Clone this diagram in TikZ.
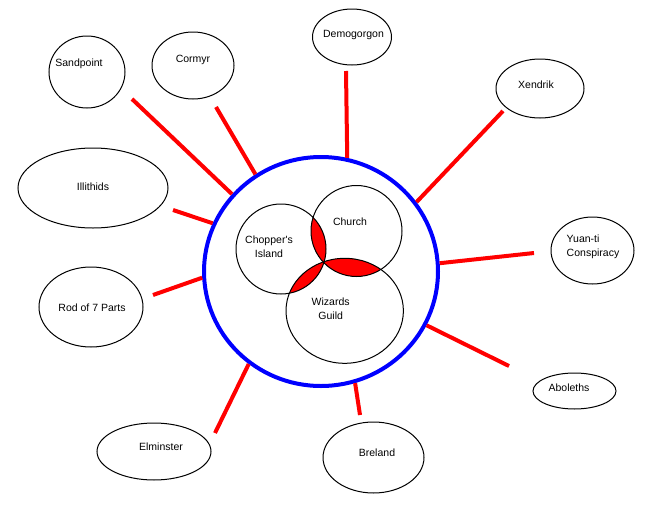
\documentclass[tikz,border=0pt]{standalone}
\usepackage{fontspec}
\setmainfont{Liberation Sans}
\usetikzlibrary{shapes.geometric}

\definecolor{ringblue}{RGB}{0,0,255}
\definecolor{linkred}{RGB}{255,0,0}

\begin{document}
\begin{tikzpicture}[
    x=1pt, y=-1pt,
    font=\fontsize{10.5}{13.5}\selectfont,
    place/.style={draw, ellipse, line width=1pt, inner sep=0pt},
    venn/.style={draw, ellipse, line width=1pt, inner sep=0pt},
    ring/.style={draw=ringblue, ellipse, line width=4pt, inner sep=0pt},
    link/.style={draw=linkred, line width=4pt}
]
\useasboundingbox (0,0) rectangle (654,509);

% overlaps of the three inner circles
\begin{scope}
  \clip (281,249) circle[radius=45];
  \fill[linkred] (356.5,231) circle[radius=45.5];
  \fill[linkred] (344.7,310.8) ellipse[x radius=58.7, y radius=52.5];
\end{scope}
\begin{scope}
  \clip (356.5,231) circle[radius=45.5];
  \fill[linkred] (344.7,310.8) ellipse[x radius=58.7, y radius=52.5];
\end{scope}

\node[venn, minimum width=90pt, minimum height=90pt,
      label={[shift={(-12,-2.5)}, align=center]center:Chopper\textquotesingle s\\Island}] (chopper) at (281,249) {};
\node[venn, minimum width=91pt, minimum height=91pt,
      label={[shift={(-6.5,-9)}]center:Church}] (church) at (356.5,231) {};
\node[venn, minimum width=117.4pt, minimum height=105pt,
      label={[shift={(-14,-2)}, align=center]center:Wizards\\Guild}] (wizards) at (344.7,310.8) {};

\node[ring, minimum width=234pt, minimum height=229pt] (ring) at (321,271.5) {};

% outer places
\node[place, minimum width=76pt, minimum height=72pt,
      label={[shift={(-8,-8)}]center:Sandpoint}] (sandpoint) at (87,72) {};
\node[place, minimum width=82pt, minimum height=67pt,
      label={[shift={(0,-5.5)}]center:Cormyr}] (cormyr) at (193,65.5) {};
\node[place, minimum width=79pt, minimum height=56pt,
      label={[shift={(1.5,-2)}]center:Demogorgon}] (demogorgon) at (352,37) {};
\node[place, minimum width=88pt, minimum height=59pt,
      label={[shift={(-4,-3.5)}]center:Xendrik}] (xendrik) at (540,88.5) {};
\node[place, minimum width=83pt, minimum height=67pt,
      label={[shift={(0.5,-3.5)}, align=left]center:Yuan-ti\\Conspiracy}] (yuanti) at (592.5,250.5) {};
\node[place, minimum width=83pt, minimum height=36pt,
      label={[shift={(-5.5,-3)}]center:Aboleths}] (aboleths) at (574.5,391) {};
\node[place, minimum width=101pt, minimum height=71pt,
      label={[shift={(3.5,-4.5)}]center:Breland}] (breland) at (373.5,457.5) {};
\node[place, minimum width=114pt, minimum height=57pt,
      label={[shift={(7,-4.5)}]center:Elminster}] (elminster) at (154,451.5) {};
\node[place, minimum width=104pt, minimum height=80pt,
      label={[shift={(1,1)}]center:Rod of 7 Parts}] (rod) at (91,307) {};
\node[place, minimum width=150pt, minimum height=80pt,
      label={[shift={(0,-1)}]center:Illithids}] (illithids) at (93,188) {};

% loose ends of the links
\coordinate (sandpoint-end) at (132,99);
\coordinate (cormyr-end) at (216,107);
\coordinate (demogorgon-end) at (346,71);
\coordinate (xendrik-end) at (503,111);
\coordinate (yuanti-end) at (534,253);
\coordinate (aboleths-end) at (509,366);
\coordinate (breland-end) at (360,415);
\coordinate (elminster-end) at (215,433);
\coordinate (rod-end) at (153,295);
\coordinate (illithids-end) at (173,210);

\draw[link] (sandpoint-end) -- (ring.139.5);
\draw[link] (cormyr-end) -- (ring.124.4);
\draw[link] (demogorgon-end) -- (ring.77.9);
\draw[link] (xendrik-end) -- (ring.36.8);
\draw[link] (yuanti-end) -- (ring.4.5);
\draw[link] (aboleths-end) -- (ring.-27);
\draw[link] (breland-end) -- (ring.-73.9);
\draw[link] (elminster-end) -- (ring.232.4);
\draw[link] (rod-end) -- (ring.183.1);
\draw[link] (illithids-end) -- (ring.156.4);

\end{tikzpicture}
\end{document}
